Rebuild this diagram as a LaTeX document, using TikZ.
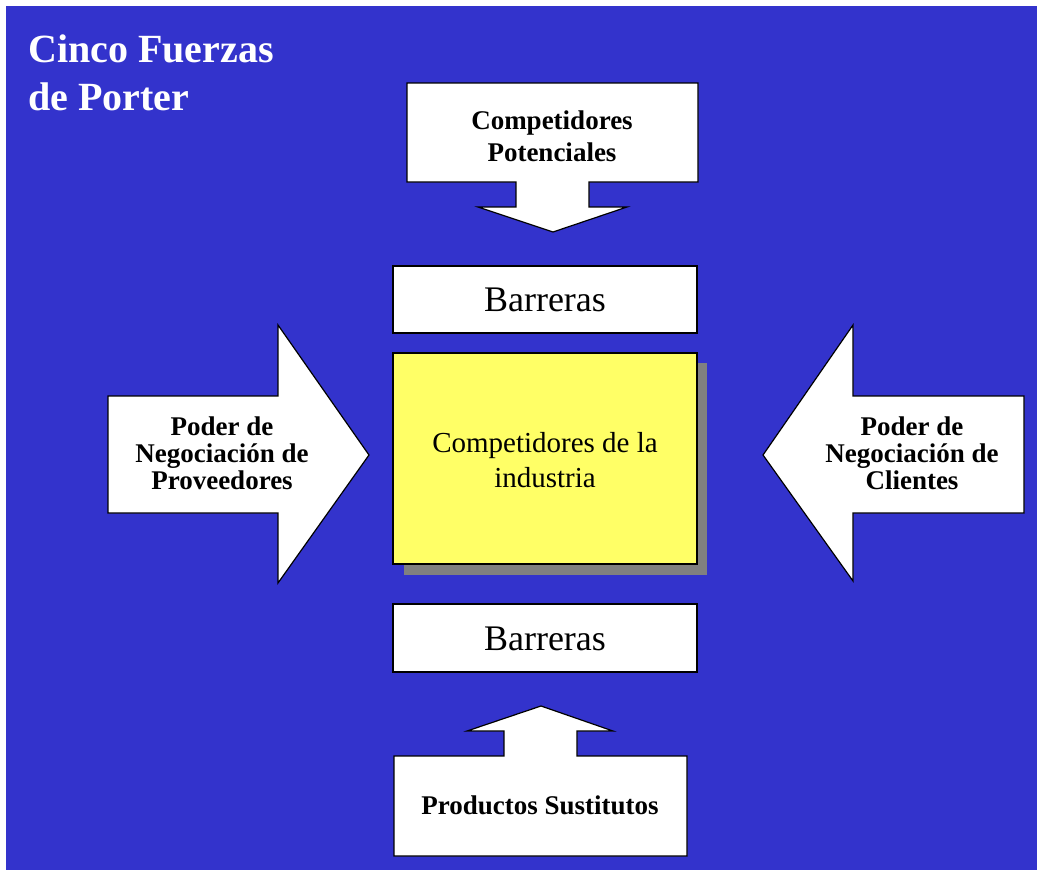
\documentclass[tikz,border=0pt]{standalone}
\usepackage{fontspec}
\setmainfont{Liberation Serif}
\usetikzlibrary{positioning}
\definecolor{porterblue}{RGB}{51,51,204}
\definecolor{porteryellow}{RGB}{255,255,102}
\definecolor{shadowgray}{RGB}{128,128,128}
\tikzset{%
  panel/.style     = {draw=black, fill=white, line width=1.2pt},%
  forcetext/.style = {align=center, inner sep=0pt,%
                      font=\bfseries\fontsize{27}{27}\selectfont},%
  bartext/.style   = {inner sep=0pt, font=\fontsize{36}{36}\selectfont},%
  coretext/.style  = {align=center, inner sep=0pt,%
                      font=\fontsize{29}{35}\selectfont}%
}
\begin{document}
\begin{tikzpicture}[x=1pt, y=-1pt]
  \fill[white] (0,0) rectangle (1037,870);
  \fill[porterblue] (6,6) rectangle (1037,870);
  \useasboundingbox (0,0) rectangle (1037,870);
  % titulo
  \node[anchor=base west, align=left, inner sep=0pt, text=white,
        font=\bfseries\fontsize{40}{48}\selectfont] (title) at (28,110)
        {Cinco Fuerzas\\de Porter};
  % entrantes
  \draw[panel] (407,83) -- (698,83) -- (698,182) -- (589,182) -- (589,207)
        -- (627,207) -- (553,232) -- (478,207) -- (516,207) -- (516,182)
        -- (407,182) -- cycle;
  \node[forcetext, font=\bfseries\fontsize{27}{32}\selectfont] (entrants) at (552,136)
        {Competidores\\Potenciales};
  % barreras
  \draw[panel] (393,266) rectangle (697,333);
  \node[bartext] (bartop) at (545,300) {Barreras};
  \draw[panel] (393,604) rectangle (697,672);
  \node[bartext] (barbottom) at (545,639) {Barreras};
  % industria
  \fill[shadowgray] (404,363) rectangle (707,575);
  \draw[panel, fill=porteryellow] (393,353) rectangle (697,564);
  \node[coretext] (rivals) at (545,460) {Competidores de la\\industria};
  % proveedores
  \draw[panel] (108,396) -- (278,396) -- (278,325) -- (369,455) -- (278,583)
        -- (278,513) -- (108,513) -- cycle;
  \node[forcetext] (suppliers) at (222,453) {Poder de\\Negociación de\\Proveedores};
  % clientes
  \draw[panel] (1024,396) -- (853,396) -- (853,325) -- (763,455) -- (853,581)
        -- (853,513) -- (1024,513) -- cycle;
  \node[forcetext] (buyers) at (912,453) {Poder de\\Negociación de\\Clientes};
  % sustitutos
  \draw[panel] (394,856) -- (687,856) -- (687,756) -- (577,756) -- (577,731)
        -- (613,731) -- (541,706) -- (467,731) -- (504,731) -- (504,756)
        -- (394,756) -- cycle;
  \node[forcetext] (substitutes) at (540,805) {Productos Sustitutos};
\end{tikzpicture}
\end{document}
